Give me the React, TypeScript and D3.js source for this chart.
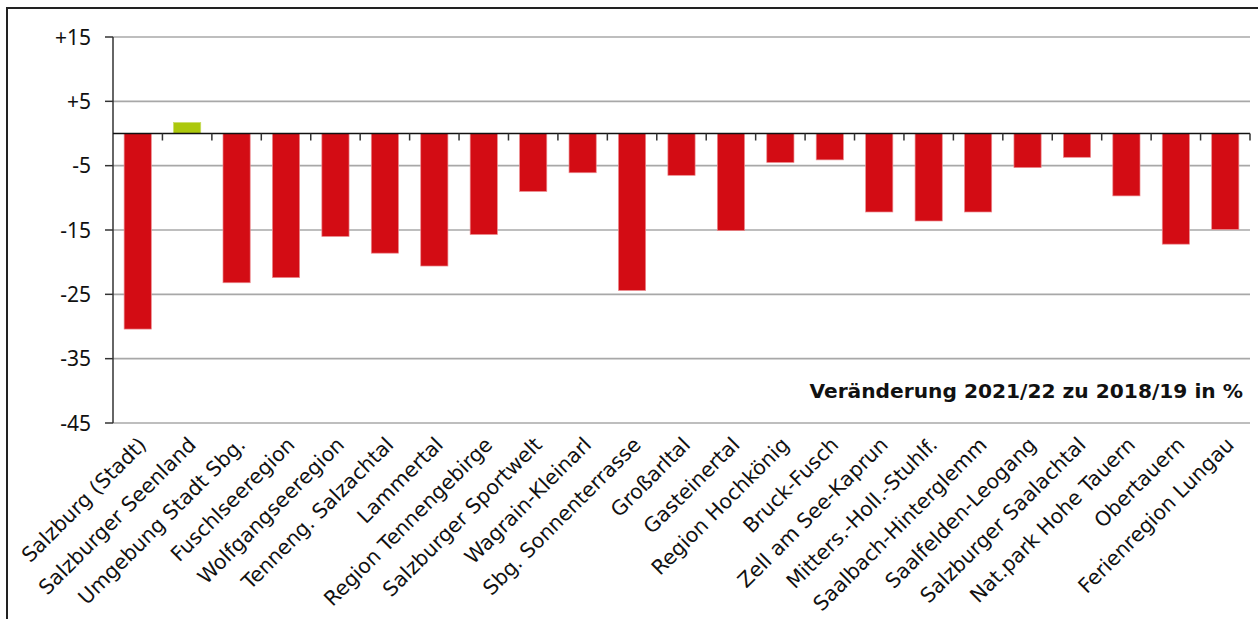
import React from 'react';
import * as d3 from 'd3';

// Tourismusverbände, Veränderung 2021/22 zu 2018/19 in %
const categories = [
  'Salzburg (Stadt)', 'Salzburger Seenland', 'Umgebung Stadt Sbg.', 'Fuschlseeregion',
  'Wolfgangseeregion', 'Tenneng. Salzachtal', 'Lammertal', 'Region Tennengebirge',
  'Salzburger Sportwelt', 'Wagrain-Kleinarl', 'Sbg. Sonnenterrasse', 'Großarltal',
  'Gasteinertal', 'Region Hochkönig', 'Bruck-Fusch', 'Zell am See-Kaprun',
  'Mitters.-Holl.-Stuhlf.', 'Saalbach-Hinterglemm', 'Saalfelden-Leogang',
  'Salzburger Saalachtal', 'Nat.park Hohe Tauern', 'Obertauern', 'Ferienregion Lungau',
];
const values = [
  -30.4, 1.7, -23.2, -22.4, -16.0, -18.6, -20.6, -15.7, -9.0, -6.1, -24.4, -6.5,
  -15.1, -4.5, -4.1, -12.2, -13.6, -12.2, -5.3, -3.7, -9.7, -17.2, -14.9,
];
const yTicks = [15, 5, -5, -15, -25, -35, -45];
const title = 'Veränderung 2021/22 zu 2018/19 in %';

const W = 1258;
const H = 619;
const margin = { left: 113, right: 8, top: 37, bottom: 196 };
const tickFont = '"Noto Sans", "Open Sans", sans-serif';
const labelFont = '"DejaVu Sans", Verdana, sans-serif';

const App = () => {
  const x = d3.scaleBand<string>()
    .domain(categories)
    .range([margin.left, W - margin.right])
    .paddingInner(0.45)
    .paddingOuter(0.225);
  const y = d3.scaleLinear()
    .domain([-45, 15])
    .range([H - margin.bottom, margin.top]);

  const x0 = margin.left;
  const x1 = W - margin.right;
  const step = x.step();
  const bounds = d3.range(1, categories.length + 1).map(i => x0 + i * step);
  const fmt = (v: number) => (v > 0 ? `+${v}` : `${v}`);

  return (
    <svg width={W} height={H} style={{ position: 'absolute', left: 0, top: 0, background: '#fff' }}>
      {/* frame */}
      <rect x={7} y={8} width={W + 20} height={H + 20} fill="none" stroke="#222" strokeWidth={2} />

      {/* gridlines */}
      {yTicks.map(t => (
        <line key={t} x1={x0} x2={x1} y1={y(t)} y2={y(t)} stroke="#a8a8a8" strokeWidth={1.6} />
      ))}

      {/* bars */}
      {values.map((v, i) => (
        <rect key={categories[i]}
          x={x(categories[i])}
          width={x.bandwidth()}
          y={Math.min(y(v), y(0))}
          height={Math.abs(y(v) - y(0))}
          fill={v >= 0 ? '#acc80c' : '#d30c14'}
          stroke={v >= 0 ? '#c8dc60' : '#ec8a8e'}
          strokeWidth={0.7} />
      ))}

      {/* y axis */}
      <line x1={x0} x2={x0} y1={y(15)} y2={y(-45)} stroke="#333" strokeWidth={1.5} />
      {yTicks.map(t => (
        <g key={t}>
          <line x1={x0 - 8} x2={x0} y1={y(t)} y2={y(t)} stroke="#333" strokeWidth={1.5} />
          <text x={91} y={y(t)} dy="0.36em" textAnchor="end" fontSize={21} fill="#111"
            fontFamily={tickFont}>{fmt(t)}</text>
        </g>
      ))}

      {/* x axis at zero */}
      <line x1={x0} x2={x1} y1={y(0)} y2={y(0)} stroke="#111" strokeWidth={1.6} />
      {bounds.map(b => (
        <line key={b} x1={b} x2={b} y1={y(0)} y2={y(0) + 7} stroke="#333" strokeWidth={1.5} />
      ))}

      {/* category labels */}
      {categories.map(c => {
        const cx = (x(c) as number) + x.bandwidth() / 2 + 10;
        const cy = 446;
        return (
          <text key={c} x={cx} y={cy} textAnchor="end" fontSize={20.5} fill="#111"
            fontFamily={labelFont} transform={`rotate(-45 ${cx} ${cy})`}>{c}</text>
        );
      })}

      <text x={1243} y={398} textAnchor="end" fontSize={20.2} fontWeight="bold" fill="#111"
        fontFamily={labelFont}>{title}</text>
    </svg>
  );
};

export default App;
